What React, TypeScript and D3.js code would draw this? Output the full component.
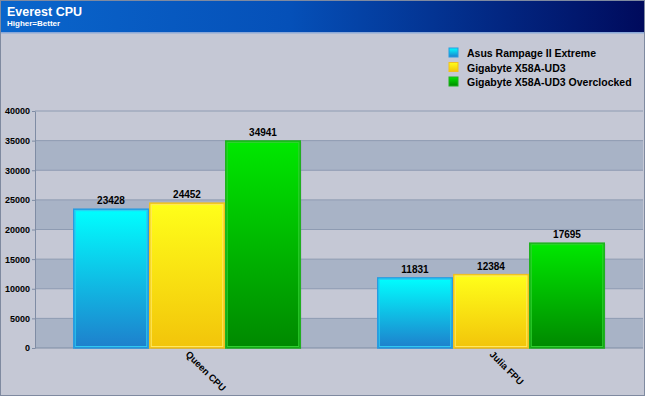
import React, { useEffect, useRef } from 'react';
import * as d3 from 'd3';

const categories = ['Queen CPU', 'Julia FPU'];
const seriesNames = ['Asus Rampage II Extreme', 'Gigabyte X58A-UD3', 'Gigabyte X58A-UD3 Overclocked'];
const asusValues = [23428, 11831];
const ud3Values = [24452, 12384];
const ocValues = [34941, 17695];
const yTicks = [0, 5000, 10000, 15000, 20000, 25000, 30000, 35000, 40000];

const W = 645;
const H = 396;
const FONT = 'Liberation Sans, Arial, sans-serif';

const App = () => {
  const svgRef = useRef<SVGSVGElement>(null);

  useEffect(() => {
    const svg = d3.select(svgRef.current).attr('width', W).attr('height', H);
    svg.selectAll('*').remove();

    const defs = svg.append('defs');
    const hdr = defs.append('linearGradient').attr('id', 'hdr').attr('x1', 0).attr('x2', 1).attr('y1', 0).attr('y2', 0);
    hdr.append('stop').attr('offset', '0%').attr('stop-color', '#0a66cc');
    hdr.append('stop').attr('offset', '45%').attr('stop-color', '#0550b8');
    hdr.append('stop').attr('offset', '100%').attr('stop-color', '#000a5c');

    const grads = [
      ['#00ffff', '#1e7fcc', '#30c8f0'],
      ['#ffff1a', '#f2c40a', '#ffe860'],
      ['#00e800', '#008800', '#30d030'],
    ];
    grads.forEach((g, i) => {
      const lg = defs.append('linearGradient').attr('id', `bar${i}`).attr('x1', 0).attr('x2', 0).attr('y1', 0).attr('y2', 1);
      lg.append('stop').attr('offset', '0%').attr('stop-color', g[0]);
      lg.append('stop').attr('offset', '100%').attr('stop-color', g[1]);
    });

    // background + header
    svg.append('rect').attr('width', W).attr('height', H).attr('fill', '#c5c8d5');
    svg.append('rect').attr('width', W).attr('height', 32).attr('fill', 'url(#hdr)');
    svg.append('rect').attr('y', 32).attr('width', W).attr('height', 1.5).attr('fill', '#8aa8d8');
    svg.append('rect').attr('x', 0.5).attr('y', 0.5).attr('width', W - 1).attr('height', H - 1)
      .attr('fill', 'none').attr('stroke', '#7f8aa0');

    svg.append('text').attr('x', 7).attr('y', 16).attr('fill', 'white')
      .attr('font-family', FONT).attr('font-weight', 'bold').attr('font-size', 12.5)
      .text('Everest CPU');
    svg.append('text').attr('x', 7).attr('y', 26).attr('fill', 'white')
      .attr('font-family', FONT).attr('font-weight', 'bold').attr('font-size', 8)
      .text('Higher=Better');

    const margin = { left: 35, right: 2, top: 111, bottom: 48 };
    const plotW = W - margin.left - margin.right;
    const y = d3.scaleLinear().domain([0, 40000]).range([H - margin.bottom, margin.top]);
    const x0 = d3.scaleBand().domain(categories).range([margin.left, margin.left + plotW]);
    const x1 = d3.scaleBand().domain(seriesNames).range([0, x0.bandwidth()]).paddingInner(0.02).paddingOuter(0.51);

    // alternating bands
    for (let i = 0; i < yTicks.length - 1; i++) {
      if (i % 2 === 0) {
        svg.append('rect').attr('x', margin.left).attr('y', y(yTicks[i + 1]))
          .attr('width', plotW).attr('height', y(yTicks[i]) - y(yTicks[i + 1])).attr('fill', '#a8b3c6');
      }
    }
    yTicks.forEach(t => {
      if (t === 0) return;
      svg.append('line').attr('x1', margin.left).attr('x2', margin.left + plotW)
        .attr('y1', y(t)).attr('y2', y(t)).attr('stroke', '#8e9bb2').attr('stroke-width', 1);
    });

    const yAxis = svg.append('g').attr('transform', `translate(${margin.left},0)`)
      .call(d3.axisLeft(y).tickValues(yTicks).tickFormat(d3.format('d')).tickSize(3).tickSizeOuter(0).tickPadding(2));
    yAxis.select('.domain').attr('stroke', '#7f8ca4');
    yAxis.selectAll('.tick line').attr('stroke', '#7f8ca4');
    yAxis.selectAll('text').attr('fill', '#000').attr('font-weight', 'bold').attr('font-size', 9)
      .attr('font-family', FONT);

    svg.append('line').attr('x1', margin.left).attr('x2', margin.left + plotW)
      .attr('y1', y(0)).attr('y2', y(0)).attr('stroke', '#7f8ca4');

    const series = [asusValues, ud3Values, ocValues];
    const strokes = ['#2a9ae0', '#f0c020', '#20b020'];
    categories.forEach((c, ci) => {
      series.forEach((vals, si) => {
        const bx = (x0(c) as number) + (x1(seriesNames[si]) as number);
        const v = vals[ci];
        svg.append('rect').attr('x', bx + 1).attr('y', y(v) + 1).attr('width', x1.bandwidth()).attr('height', y(0) - y(v))
          .attr('fill', '#7a8498').attr('opacity', 0.6);
        svg.append('rect').attr('x', bx).attr('y', y(v)).attr('width', x1.bandwidth()).attr('height', y(0) - y(v))
          .attr('fill', `url(#bar${si})`).attr('stroke', strokes[si]).attr('stroke-width', 1.5);
        svg.append('rect').attr('x', bx + 1.5).attr('y', y(v) + 1.5).attr('width', x1.bandwidth() - 3).attr('height', y(0) - y(v) - 3)
          .attr('fill', 'none').attr('stroke', grads[si][2]).attr('stroke-width', 1);
        svg.append('text').attr('x', bx + x1.bandwidth() / 2).attr('y', y(v) - 5).attr('text-anchor', 'middle')
          .attr('font-family', FONT).attr('font-weight', 'bold').attr('font-size', 10)
          .text(v);
      });
      const cx = (x0(c) as number) + x0.bandwidth() / 2;
      svg.append('text').attr('transform', `translate(${cx - 2},${y(0) + 7}) rotate(45)`)
        .attr('font-family', FONT).attr('font-weight', 'bold').attr('font-size', 9.5)
        .text(c);
    });

    // legend
    const leg = svg.append('g').attr('transform', 'translate(449,48)');
    seriesNames.forEach((n, i) => {
      const gy = i * 14.5;
      leg.append('rect').attr('x', 0).attr('y', gy).attr('width', 9).attr('height', 9)
        .attr('fill', `url(#bar${i})`).attr('stroke', strokes[i]);
      leg.append('text').attr('x', 18).attr('y', gy + 9)
        .attr('font-family', FONT).attr('font-weight', 'bold').attr('font-size', 10.5)
        .text(n);
    });
  }, []);

  return <svg ref={svgRef} style={{ display: 'block', position: 'absolute', left: 0, top: 0 }}></svg>;
};

export default App;
